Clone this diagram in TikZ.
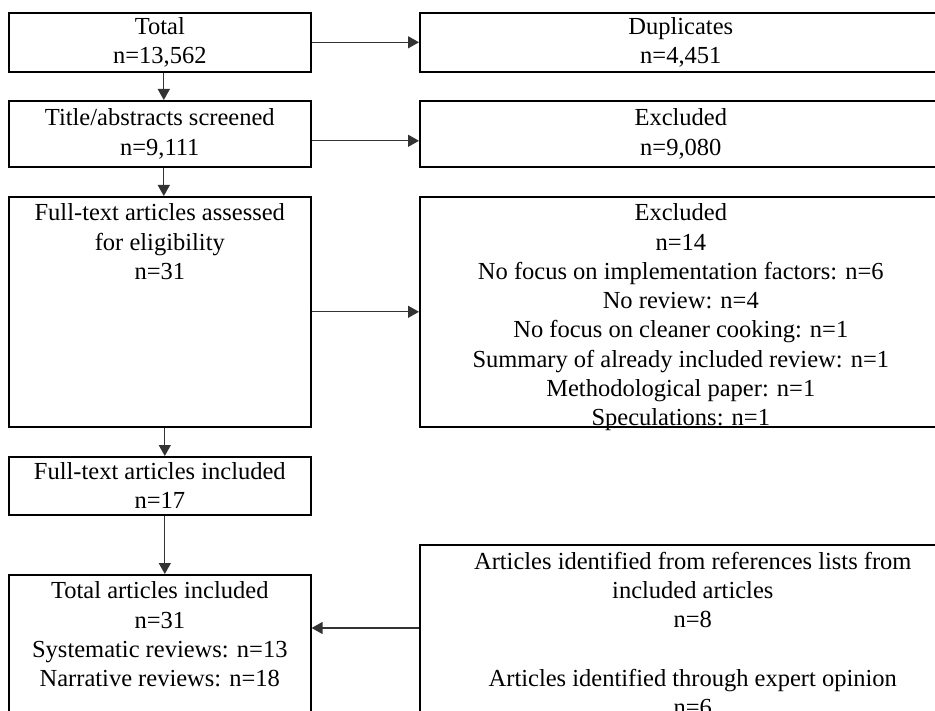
\documentclass[tikz,border=0pt]{standalone}
\usepackage{fontspec}
\setmainfont{Liberation Serif}
\usetikzlibrary{arrows.meta}

\tikzset{
  stagebox/.style={draw, line width=1.6pt, anchor=north west, inner sep=0pt,
    align=center, minimum height=#1, font=\fontsize{24.5}{29.3}\selectfont},
  flow/.style={-{Triangle[length=11pt,width=12pt]}, line width=1.3pt, draw=black!80},
}
% text pinned to the top of a tall box
\newcommand{\toptext}[3]{\parbox[c][#1][t]{#2}{\centering\vspace*{7pt}#3}}

\begin{document}
\begin{tikzpicture}[x=1pt,y=-1pt]
  \useasboundingbox (0,0) rectangle (935,711);
  \fill[white] (0,0) rectangle (935,711);
  \clip (0,0) rectangle (935,711);
  % left column
  \node[stagebox=59pt,minimum width=302pt] (total) at (8,12) {Total\\n=13,562};
  \node[stagebox=66pt,minimum width=302pt] (screen) at (8,100)
    {Title/abstracts screened\\n=9,111};
  \node[stagebox=230pt,minimum width=302pt] (fulltext) at (8,196)
    {\toptext{230pt}{302pt}{Full-text articles assessed\\for eligibility\\n=31}};
  \node[stagebox=58pt,minimum width=302pt] (included) at (8,456)
    {Full-text articles included\\n=17};
  \node[stagebox=200pt,minimum width=302pt] (final) at (8,574)
    {\toptext{200pt}{302pt}{Total articles included\\n=31\\Systematic reviews: n=13\\Narrative reviews: n=18}};
  % right column
  \node[stagebox=59pt,minimum width=522pt] (dupl) at (419,12) {Duplicates\\n=4,451};
  \node[stagebox=66pt,minimum width=522pt] (exclA) at (419,100) {Excluded\\n=9,080};
  \node[stagebox=230pt,minimum width=522pt] (exclB) at (419,196)
    {\toptext{230pt}{522pt}{Excluded\\n=14\\No focus on implementation factors: n=6\\No review: n=4\\
     No focus on cleaner cooking: n=1\\Summary of already included review: n=1\\
     Methodological paper: n=1\\Speculations: n=1}};
  \node[stagebox=220pt,minimum width=546pt] (refs) at (419,544)
    {\toptext{220pt}{546pt}{Articles identified from references lists from\\included articles\\n=8\\[29.3pt]
     Articles identified through expert opinion\\n=6}};
  % connectors
  \draw[flow] ([xshift=4pt]total.south) -- ([xshift=4pt]screen.north);
  \draw[flow] ([xshift=4pt]screen.south) -- ([xshift=4pt]fulltext.north);
  \draw[flow] ([xshift=5pt]fulltext.south) -- ([xshift=5pt]included.north);
  \draw[flow] ([xshift=5pt]included.south) -- ([xshift=5pt]final.north);
  \draw[flow] (total) -- (dupl);
  \draw[flow] ([yshift=-7pt]screen.east) -- ([yshift=-7pt]exclA.west);
  \draw[flow] (fulltext) -- (exclB);
  \draw[flow] ([yshift=-84pt]refs.north west) -- ([yshift=-84pt]refs.north west -| final.east);
\end{tikzpicture}
\end{document}
